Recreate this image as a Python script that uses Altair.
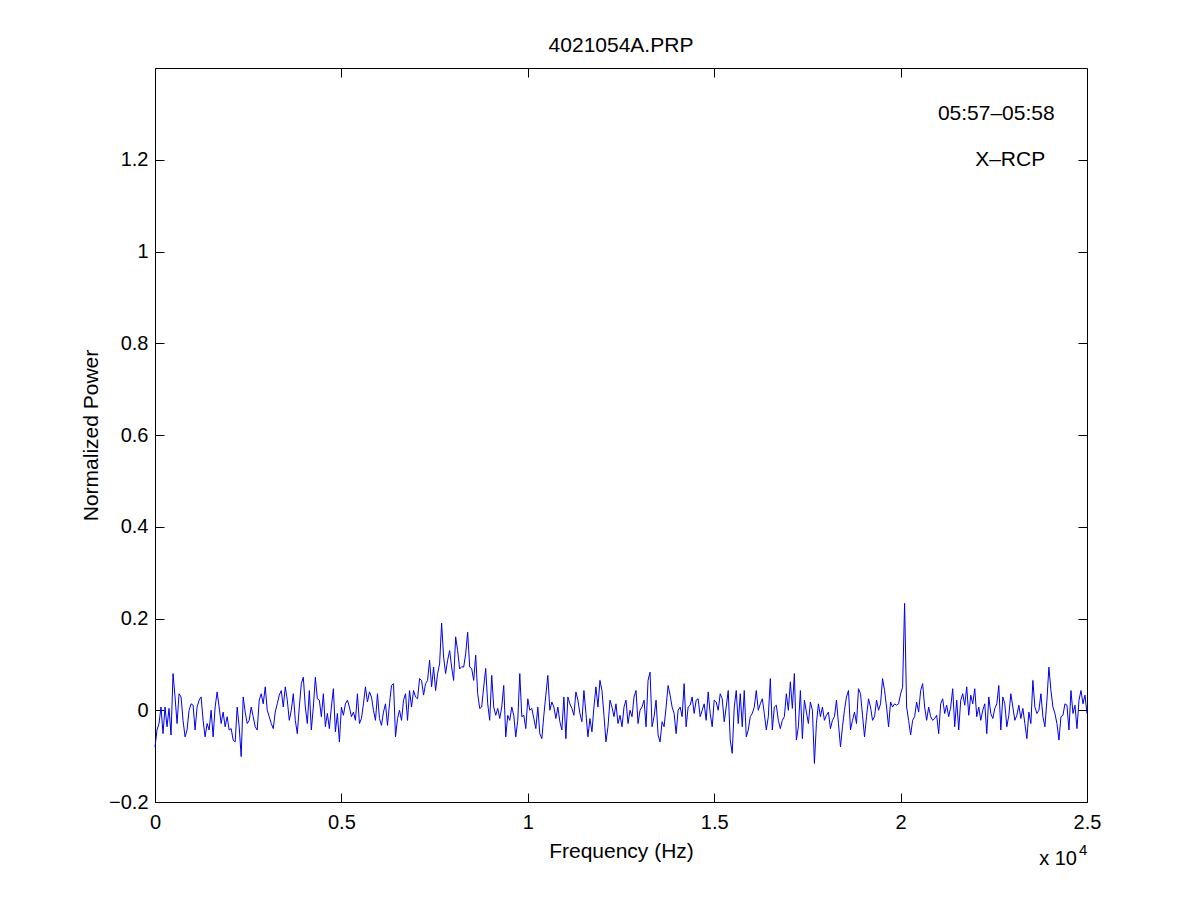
import altair as alt
import numpy as np
import pandas as pd

# ---- data (normalized power) ----
seg1 = [-0.080, -0.043, -0.029, 0.007, -0.051, 0.007, -0.036, 0.004, -0.054, 0.080,
        0.029, -0.029, 0.036, 0.029, -0.022, -0.058, -0.043, 0.000, 0.014, 0.011,
        -0.043, 0.007, 0.022, 0.029, -0.022, -0.058, -0.029, -0.043, 0.000, -0.058,
        0.007, 0.040, 0.007, -0.029, -0.004, -0.036, -0.014, -0.043, -0.040, -0.065,
        -0.069, 0.007, -0.036, -0.101, 0.029, -0.004, -0.029, -0.022, 0.007, -0.014,
        -0.036, -0.043, 0.022, 0.036, 0.014, 0.051, 0.000, -0.014, -0.029, -0.040,
        -0.004, 0.014, 0.033, 0.043, 0.007, 0.051, 0.022, -0.022, 0.000, 0.036,
        -0.022, -0.051, 0.007, 0.058, 0.072, 0.007, -0.029, 0.043]
seg2 = [-0.043, 0.007, 0.072, 0.025, 0.022, -0.014, 0.036, -0.036, -0.007, -0.040,
        0.007, 0.047, -0.047, -0.007, -0.069, 0.007, -0.011, 0.014, 0.022, 0.007,
        -0.014, -0.004, -0.022, 0.036, -0.029, -0.018, 0.014, 0.051, 0.018, 0.040,
        0.029, 0.000, -0.022, 0.036, -0.018, -0.033, -0.004, 0.014, -0.033, 0.014,
        0.054, 0.058, -0.058, -0.018, 0.000, -0.022, 0.022, 0.036, -0.022, 0.043,
        0.007, 0.043, 0.029, 0.025, 0.069, 0.065, 0.033, 0.058, 0.065, 0.109,
        0.051, 0.094, 0.043, 0.080, 0.101, 0.190, 0.116, 0.080, 0.109, 0.130,
        0.094, 0.065, 0.160, 0.130, 0.090, 0.095, 0.094]
seg3 = [0.123, 0.170, 0.094, 0.091, 0.065, 0.120, 0.036, 0.004, 0.007, 0.051,
        0.091, 0.014, -0.022, 0.076, 0.007, -0.011, 0.004, -0.018, 0.007, 0.054,
        -0.058, -0.011, -0.022, 0.007, -0.011, -0.058, -0.022, 0.080, -0.014, -0.011,
        -0.040, 0.025, 0.000, 0.004, -0.018, -0.040, 0.007, -0.051, -0.062, -0.011,
        0.033, 0.076, 0.000, 0.018, 0.007, -0.018, 0.007, -0.025, -0.043, 0.029,
        -0.062, 0.029, 0.014, 0.004, -0.011, 0.040, 0.022, -0.007, -0.025, 0.043,
        -0.007, -0.058, -0.018, -0.047, 0.007, 0.051, 0.007, 0.065, 0.043, -0.011,
        -0.069, -0.036, 0.022, 0.007, -0.014, 0.014, -0.029, -0.011]
seg4 = [-0.036, 0.007, 0.022, -0.029, 0.000, -0.014, 0.029, 0.043, -0.029, 0.000,
        0.007, 0.022, -0.036, 0.065, 0.083, -0.036, -0.014, 0.022, -0.054, -0.069,
        -0.025, -0.036, 0.007, 0.054, 0.033, 0.007, -0.007, -0.051, 0.000, 0.007,
        -0.014, 0.058, -0.036, 0.007, 0.011, 0.029, -0.007, 0.022, 0.025, -0.014,
        0.000, 0.014, -0.022, 0.040, -0.007, -0.036, 0.022, 0.018, 0.000, 0.036,
        0.025, -0.025, 0.007, 0.043, -0.065, -0.094, 0.007, 0.043, -0.029, 0.036,
        -0.036, 0.043, -0.058, -0.043, -0.014, -0.007, 0.007, 0.043, 0.000, 0.014,
        0.025, -0.007, -0.043, -0.014, 0.069, -0.043, 0.007]
seg5 = [0.011, -0.022, -0.040, -0.022, -0.014, 0.036, 0.000, 0.062, 0.004, 0.080,
        -0.065, -0.036, 0.043, -0.062, 0.022, -0.004, -0.029, 0.018, 0.000, -0.116,
        -0.029, 0.014, -0.014, 0.007, -0.022, -0.011, -0.004, -0.040, -0.022, -0.014,
        0.022, -0.029, -0.080, -0.036, 0.000, 0.029, 0.043, -0.043, -0.022, -0.004,
        -0.029, 0.047, 0.036, -0.011, -0.058, -0.014, 0.025, 0.007, -0.022, -0.014,
        0.022, 0.000, 0.014, 0.069, 0.043, 0.007, -0.036, 0.018, 0.007, 0.014,
        0.011, 0.014, 0.036, 0.050, 0.233, 0.007, -0.022, -0.054, -0.022, -0.014,
        0.018, -0.004, 0.043, 0.058, 0.007, -0.022, 0.007, -0.014]
seg6 = [-0.022, -0.018, -0.011, -0.051, 0.014, 0.025, -0.007, 0.011, -0.014, 0.007,
        0.047, -0.036, 0.022, -0.043, 0.022, 0.036, 0.011, 0.051, -0.011, 0.033,
        0.014, 0.047, -0.014, 0.007, -0.022, 0.000, 0.014, -0.051, 0.029, -0.007,
        -0.018, 0.004, 0.014, 0.054, -0.043, 0.029, 0.014, -0.036, -0.011, 0.036,
        0.007, -0.022, -0.011, 0.011, -0.018, 0.004, -0.029, -0.062, -0.004, -0.029,
        0.065, 0.007, -0.007, 0.000, 0.036, -0.014, -0.036, 0.022, 0.094, 0.043,
        0.007, -0.007, -0.029, -0.065, -0.014, -0.011, 0.014, 0.011, -0.043, 0.043,
        -0.007, 0.011, -0.040, 0.022, 0.043, 0.014, 0.033, -0.007]

power = seg1 + seg2 + seg3 + seg4 + seg5 + seg6
freq_min, freq_max = 0, 25000
freq = np.linspace(freq_min, freq_max, len(power))  # uniform sampling grid

x_ticks = [0, 5000, 10000, 15000, 20000, 25000]
y_ticks = [-0.2, 0, 0.2, 0.4, 0.6, 0.8, 1.0, 1.2]

ann_x = [21000, 22000]
ann_y = [1.3, 1.2]
ann_text = ["05:57\u201305:58", "X\u2013RCP"]

title_text = "4021054A.PRP"
x_title = "Frequency (Hz)"
y_title = "Normalized Power"
exp_base = ["x 10"]
exp_power = ["4"]

df = pd.DataFrame({"freq": freq, "power": power})
ann = pd.DataFrame({"x": ann_x, "y": ann_y, "label": ann_text})

FONT = "Liberation Sans"
W, H = 932, 734

xscale = alt.Scale(domain=[freq_min, freq_max], nice=False, zero=False)
yscale = alt.Scale(domain=[-0.2, 1.4], nice=False, zero=False)

base = alt.Chart(df)

main = base.mark_line(color="#0000ee", strokeWidth=1).encode(
    x=alt.X("freq:Q", scale=xscale, title=x_title,
            axis=alt.Axis(orient="bottom", values=x_ticks,
                          labelExpr="format(datum.value/10000, '~g')",
                          ticks=False, tickSize=0, domain=False, grid=False,
                          labelFont=FONT, labelFontSize=20, labelColor="black",
                          labelPadding=26, labelBaseline="alphabetic",
                          labelFlush=False, labelOverlap=False,
                          titleFont=FONT, titleFontSize=21, titleFontWeight="normal",
                          titleColor="black", titleY=55, titleBaseline="alphabetic")),
    y=alt.Y("power:Q", scale=yscale, title=y_title,
            axis=alt.Axis(orient="left", values=y_ticks, format="~g",
                          ticks=False, tickSize=0, domain=False, grid=False,
                          labelFont=FONT, labelFontSize=20, labelColor="black",
                          labelPadding=7, labelFlush=False, labelOverlap=False,
                          titleFont=FONT, titleFontSize=21, titleFontWeight="normal",
                          titleColor="black", titleX=-58, titleY=H / 2,
                          titleAngle=270, titleAlign="center",
                          titleBaseline="alphabetic")),
)

# inward tick marks on all four sides (axes moved onto the opposite edge)
ticks_a = base.mark_line(strokeOpacity=0).encode(
    x=alt.X("freq:Q", scale=xscale, title=None,
            axis=alt.Axis(orient="top", offset=-H, values=x_ticks, labels=False,
                          domain=False, grid=False, ticks=True, tickSize=9,
                          tickColor="black", tickWidth=1)),
    y=alt.Y("power:Q", scale=yscale, title=None,
            axis=alt.Axis(orient="right", offset=-W, values=y_ticks, labels=False,
                          domain=False, grid=False, ticks=True, tickSize=9,
                          tickColor="black", tickWidth=1)),
)
ticks_b = base.mark_line(strokeOpacity=0).encode(
    x=alt.X("freq:Q", scale=xscale, title=None,
            axis=alt.Axis(orient="bottom", offset=-H, values=x_ticks, labels=False,
                          domain=False, grid=False, ticks=True, tickSize=9,
                          tickColor="black", tickWidth=1)),
    y=alt.Y("power:Q", scale=yscale, title=None,
            axis=alt.Axis(orient="left", offset=-W, values=y_ticks, labels=False,
                          domain=False, grid=False, ticks=True, tickSize=9,
                          tickColor="black", tickWidth=1)),
)

notes = alt.Chart(ann).mark_text(align="left", baseline="middle", font=FONT,
                                 fontSize=21, color="black").encode(
    x=alt.X("x:Q", scale=xscale, axis=None),
    y=alt.Y("y:Q", scale=yscale, axis=None),
    text="label:N",
)

exp1 = alt.Chart(pd.DataFrame({"label": exp_base})).mark_text(
    align="right", baseline="alphabetic", font=FONT, fontSize=20, color="black"
).encode(x=alt.value(922), y=alt.value(797), text="label:N")
exp2 = alt.Chart(pd.DataFrame({"label": exp_power})).mark_text(
    align="left", baseline="alphabetic", font=FONT, fontSize=15, color="black"
).encode(x=alt.value(924), y=alt.value(787), text="label:N")

chart = alt.layer(main, ticks_a, ticks_b, notes, exp1, exp2).resolve_axis(
    x="independent", y="independent"
).properties(
    width=W, height=H,
    autosize=alt.AutoSizeParams(type="none"),
    padding={"left": 147, "top": 60, "right": 100, "bottom": 90},
    background="white",
    title=alt.TitleParams(title_text, font=FONT, fontSize=21, fontWeight="normal",
                          color="black", anchor="middle", frame="group",
                          baseline="alphabetic", offset=15, dy=20),
).configure_view(stroke="black", strokeWidth=1)

chart.save("out.html", embed_options={"renderer": "svg", "actions": False})
